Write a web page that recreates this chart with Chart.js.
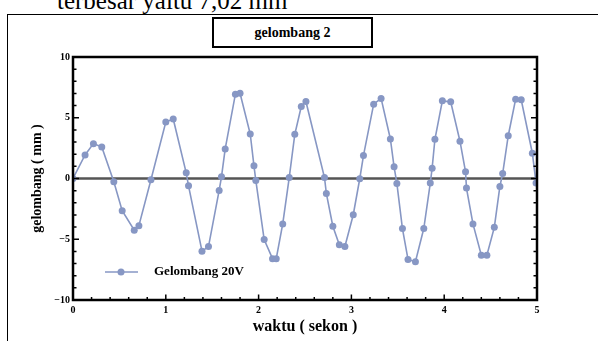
<!DOCTYPE html>
<html>
<head>
<meta charset="utf-8">
<script src="https://cdn.jsdelivr.net/npm/chart.js@4.4.0/dist/chart.umd.min.js"></script>
<style>
  html, body { margin: 0; padding: 0; background: #fff; }
  #wrap { position: relative; width: 598px; height: 341px; overflow: hidden; }
  #topText {
    position: absolute; left: 57px; top: -12px;
    font: 25px/25px "Liberation Serif", "Times New Roman", serif; color: #000;
    white-space: nowrap;
  }
  #frame {
    position: absolute; left: 7px; top: 14px; width: 620px; height: 360px;
    border-left: 1.5px solid #000; border-top: 1.5px solid #000;
  }
  #titleBox {
    position: absolute; left: 212px; top: 17px; width: 157px; height: 27px;
    border: 2px solid #000; background: #fff;
    font: bold 14px/27px "Liberation Serif", serif; text-align: center;
  }
  canvas { position: absolute; left: 0; top: 0; }
</style>
</head>
<body>
<div id="wrap">
  <div id="topText">terbesar yaitu 7,02 mm</div>
  <div id="frame"></div>
  <div id="titleBox">gelombang 2</div>
  <canvas id="chart" width="598" height="341"></canvas>
</div>
<script>
// data (waktu dalam sekon, gelombang dalam mm)
const waktu = [0, 0.13, 0.22, 0.31, 0.44, 0.53, 0.66, 0.71, 0.84, 1.0, 1.08, 1.22, 1.245,
  1.39, 1.46, 1.575, 1.6, 1.64, 1.75, 1.8, 1.91, 1.95, 1.97, 2.06, 2.15, 2.19, 2.26,
  2.33, 2.39, 2.46, 2.51, 2.71, 2.73, 2.8, 2.87, 2.93, 3.02, 3.09, 3.13, 3.24, 3.32,
  3.42, 3.46, 3.49, 3.55, 3.61, 3.69, 3.78, 3.85, 3.87, 3.9, 3.98, 4.07, 4.17, 4.23,
  4.24, 4.31, 4.4, 4.46, 4.54, 4.6, 4.63, 4.69, 4.77, 4.83, 4.95, 4.99];
const gelombang = [0, 1.94, 2.87, 2.6, -0.27, -2.65, -4.26, -3.88, -0.1, 4.65, 4.9, 0.47, -0.6,
  -5.98, -5.6, -0.98, 0.14, 2.43, 6.94, 7.02, 3.66, 1.04, -0.16, -5.02, -6.6, -6.6, -3.74,
  0.08, 3.64, 5.93, 6.34, 0.08, -1.23, -3.93, -5.46, -5.6, -2.98, -0.02, 1.89, 6.12, 6.59,
  3.25, 0.96, -0.41, -4.12, -6.66, -6.85, -4.12, -0.38, 0.85, 3.23, 6.39, 6.31, 3.07, 0.55,
  -0.79, -3.74, -6.31, -6.31, -4.02, -0.65, 0.41, 3.52, 6.53, 6.48, 2.08, -0.38];
const xTicks = [0, 1, 2, 3, 4, 5];
const yTicks = [-10, -5, 0, 5, 10];
const seriesName = "Gelombang 20V";

const warna = "#8797c4";
const serif = "'Liberation Serif', 'Times New Roman', serif";

// bingkai, garis nol, tick ke dalam, dan legenda
const bingkaiPlugin = {
  id: "bingkai",
  beforeDatasetsDraw(chart) {
    const { ctx, chartArea: a, scales } = chart;
    const y0 = scales.y.getPixelForValue(0);
    ctx.save();
    ctx.strokeStyle = "#555";
    ctx.lineWidth = 2.5;
    ctx.beginPath();
    ctx.moveTo(a.left, y0);
    ctx.lineTo(a.right, y0);
    ctx.stroke();
    ctx.restore();
  },
  afterDatasetsDraw(chart) {
    const { ctx, chartArea: a, scales } = chart;
    ctx.save();
    ctx.strokeStyle = "#000";
    ctx.lineWidth = 1.5;
    // tick sumbu y kiri & kanan
    for (let v = -10; v <= 10; v++) {
      const py = scales.y.getPixelForValue(v);
      const len = v % 5 === 0 ? 6 : 3.5;
      ctx.beginPath();
      ctx.moveTo(a.left, py); ctx.lineTo(a.left + len, py);
      ctx.moveTo(a.right, py); ctx.lineTo(a.right - len, py);
      ctx.stroke();
    }
    // tick sumbu x bawah
    for (let i = 0; i <= 25; i++) {
      const px = scales.x.getPixelForValue(i / 5);
      const len = i % 5 === 0 ? 5.5 : 3;
      ctx.beginPath();
      ctx.moveTo(px, a.bottom); ctx.lineTo(px, a.bottom - len);
      ctx.stroke();
    }
    ctx.lineWidth = 2.5;
    ctx.strokeRect(a.left, a.top, a.right - a.left, a.bottom - a.top);

    // legenda di dalam area plot
    const ly = a.bottom - 28;
    const lx = a.left + 32;
    ctx.strokeStyle = warna;
    ctx.lineWidth = 1.6;
    ctx.beginPath();
    ctx.moveTo(lx, ly); ctx.lineTo(lx + 33, ly);
    ctx.stroke();
    ctx.fillStyle = warna;
    ctx.beginPath();
    ctx.arc(lx + 16, ly, 3.5, 0, Math.PI * 2);
    ctx.fill();
    ctx.fillStyle = "#000";
    ctx.font = "bold 13px " + serif;
    ctx.textBaseline = "middle";
    ctx.fillText(seriesName, lx + 49, ly);
    ctx.restore();
  }
};

new Chart(document.getElementById("chart"), {
  type: "line",
  data: {
    datasets: [{
      label: seriesName,
      data: waktu.map((t, i) => ({ x: t, y: gelombang[i] })),
      borderColor: warna,
      backgroundColor: warna,
      borderWidth: 1.6,
      pointRadius: 3.5,
      pointBorderWidth: 0,
      pointBackgroundColor: warna,
      tension: 0,
    }],
  },
  options: {
    responsive: false,
    animation: false,
    layout: { padding: { top: 57, right: 61, left: 0, bottom: 0 } },
    plugins: { legend: { display: false }, tooltip: { enabled: false } },
    scales: {
      x: {
        type: "linear",
        min: 0, max: 5,
        afterFit(scale) { scale.height = 41; },
        afterBuildTicks(scale) { scale.ticks = xTicks.map((v) => ({ value: v })); },
        grid: { display: false, drawTicks: false },
        border: { display: false },
        ticks: { padding: 4, color: "#000", font: { family: serif, size: 10, weight: "bold" } },
        title: {
          display: true, text: "waktu ( sekon )", color: "#000",
          font: { family: serif, size: 16, weight: "bold" },
          padding: { top: 0, bottom: 5 },
        },
      },
      y: {
        min: -10, max: 10,
        afterFit(scale) { scale.width = 73; },
        afterBuildTicks(scale) { scale.ticks = yTicks.map((v) => ({ value: v })); },
        grid: { display: false, drawTicks: false },
        border: { display: false },
        ticks: {
          padding: 3, color: "#000",
          font: { family: serif, size: 10, weight: "bold" },
          callback: (v) => String(v).replace("-", "\u2212"),
        },
        title: {
          display: true, text: "gelombang ( mm )", color: "#000",
          font: { family: serif, size: 14, weight: "bold" },
          padding: { top: 29, bottom: 0 },
        },
      },
    },
  },
  plugins: [bingkaiPlugin],
});
</script>
</body>
</html>
